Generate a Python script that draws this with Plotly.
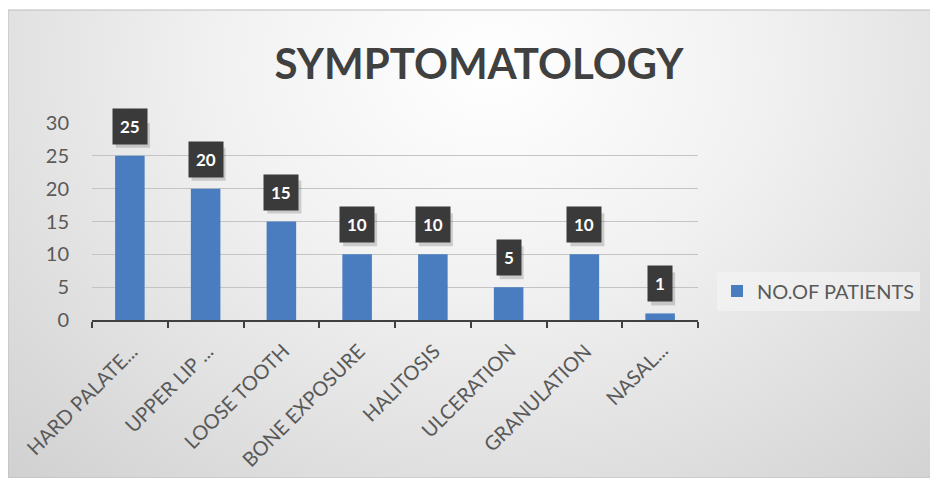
import base64
import plotly.graph_objects as go

categories = ["HARD PALATE...", "UPPER LIP ...", "LOOSE TOOTH", "BONE EXPOSURE",
              "HALITOSIS", "ULCERATION", "GRANULATION", "NASAL..."]
patients = [25, 20, 15, 10, 10, 5, 10, 1]
series_name = "NO.OF PATIENTS"
title_text = "SYMPTOMATOLOGY"
y_ticks = [0, 5, 10, 15, 20, 25, 30]

# page body has an 8px margin, so figure origin is at (8, 8) on the page
W, H = 927, 470
L, T = 84, 115
pw, ph = 606, 197
R, B = W - L - pw, H - T - ph

svg = """<svg xmlns='http://www.w3.org/2000/svg' width='927' height='470' preserveAspectRatio='none'>
<defs><radialGradient id='g' cx='0.52' cy='0.12' r='0.85' gradientTransform='translate(0.52,0.12) scale(1,1.6) translate(-0.52,-0.12)'>
<stop offset='0' stop-color='#ffffff'/><stop offset='0.35' stop-color='#f1f1f1'/><stop offset='1' stop-color='#cacaca'/></radialGradient></defs>
<rect width='927' height='470' fill='url(#g)'/></svg>"""
src = "data:image/svg+xml;base64," + base64.b64encode(svg.encode()).decode()

x0 = -L / pw
x1 = (W - L) / pw
y1 = (T + ph - 2) / ph
y0 = -B / ph

fig = go.Figure()
fig.add_trace(go.Bar(x=categories, y=patients, name=series_name,
                     marker=dict(color="#4a7dc0", line=dict(width=0)),
                     showlegend=True))

shapes = [dict(type="rect", xref="paper", yref="paper", x0=x0, x1=x1, y0=y0, y1=y1,
               line=dict(color="#bdbdbd", width=1), layer="below")]
for c, v in zip(categories, patients):
    half = 7 + 5 * len(str(v))
    shapes.append(dict(type="rect", xref="x", yref="y", xsizemode="pixel", ysizemode="pixel",
                       xanchor=c, yanchor=v, x0=-half + 3, x1=half + 3, y0=8, y1=8 + 33,
                       fillcolor="rgba(0,0,0,0.16)", line=dict(width=0), layer="above"))
    fig.add_annotation(x=c, y=v, text="<b>%d</b>" % v, showarrow=False,
                       yanchor="bottom", yshift=11,
                       font=dict(family="Lato", size=17, color="white"),
                       bgcolor="#3a3a3a", borderpad=7)
    # rotated category labels
    fig.add_annotation(x=c, y=0, xref="x", yref="y", text=c, showarrow=False,
                       textangle=-45, xanchor="right", yanchor="top",
                       xshift=13, yshift=-17, borderpad=0,
                       font=dict(family="Lato", size=20, color="#595959"))

fig.update_layout(
    width=W, height=H,
    margin=dict(l=L, r=R, t=T, b=B, pad=0, autoexpand=False),
    paper_bgcolor="white", plot_bgcolor="rgba(0,0,0,0)",
    font=dict(family="Lato", color="#595959"),
    title=dict(text="<b>%s</b>" % title_text, x=471 / W, xanchor="center",
               y=1 - 56 / H, yanchor="middle",
               font=dict(family="Lato", size=42, color="#404040")),
    bargap=0.61,
    showlegend=True,
    legend=dict(xref="container", yref="container", x=709 / W, y=1 - 283 / H,
                xanchor="left", yanchor="middle",
                bgcolor="rgba(245,245,245,0.55)", font=dict(size=20, color="#595959"),
                itemwidth=30),
    images=[dict(source=src, xref="paper", yref="paper", x=x0, y=y1,
                 sizex=x1 - x0, sizey=y1 - y0, sizing="stretch", layer="below")],
    shapes=shapes,
)
fig.update_xaxes(range=[-0.5, len(categories) - 0.5], autorange=False,
                 showline=True, linecolor="#404040", linewidth=2,
                 ticks="outside", tickson="boundaries", ticklen=6, tickwidth=2,
                 tickcolor="#404040", showticklabels=False)
fig.update_yaxes(range=[0, 30], autorange=False, tickvals=y_ticks, showline=False, zeroline=False,
                 gridcolor="#c4c4c4", gridwidth=1.3,
                 tickfont=dict(family="Lato", size=20, color="#595959"),
                 ticklabelstandoff=22)

fig.write_html("out.html")
